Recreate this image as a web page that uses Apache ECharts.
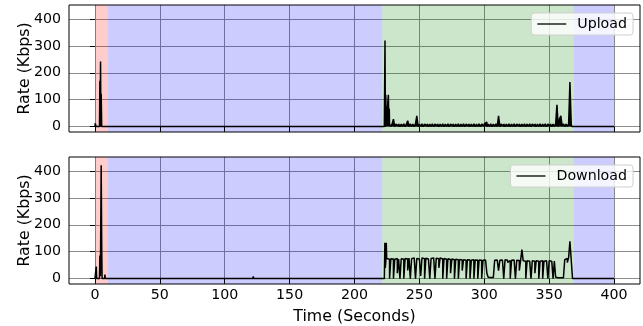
<!DOCTYPE html>
<html><head><meta charset="utf-8">
<script src="https://cdn.jsdelivr.net/npm/echarts@6/dist/echarts.min.js"></script>
<style>html,body{margin:0;padding:0;background:#fff}#c{width:643px;height:326px}</style>
</head><body><div id="c"></div>
<script>
// ---- data ----
const xTicks = [0, 50, 100, 150, 200, 250, 300, 350, 400];
const yTicks = [0, 100, 200, 300, 400];
const regionStart = [0, 10, 221.3, 368.8];
const regionEnd   = [10, 221.3, 368.8, 400];
const regionKind  = ['red', 'blue', 'green', 'blue'];

// Upload: sparse points [time, rate]
const uploadHead = [[0,0],[0.2,12],[0.6,8],[1,0],[3.5,0],[3.8,170],[4.1,0],[4.3,242],[4.6,0],[4.8,122],[5.2,0],[5.6,0],
  [61.2,0],[61.5,4],[61.8,0],[121.7,0],[122,6],[122.3,0],[181.7,0],[182,3],[182.3,0],
  [223,0],[223.5,320],[223.8,0],[224.1,118],[224.4,5],[225.7,5],[226.1,118],[226.5,5],[226.8,66]];
// Upload: one value per second from t=227
const uploadBandStart = 227;
const uploadBand = [
  9,1,10,28,0,9,2,10,0,9,
  1,10,0,9,22,0,10,1,9,0,
  10,40,0,9,1,10,0,9,2,10,
  0,9,1,10,0,9,2,10,0,9,
  1,10,0,9,1,10,0,9,2,10,
  0,9,1,10,0,9,1,10,0,9,
  2,10,0,9,1,10,0,9,1,10,
  0,9,2,10,17,0,9,1,10,0,
  9,1,10,0,40,0,9,2,10,0,
  9,1,10,0,9,1,10,0,9,2,
  10,0,9,1,10,0,9,1,10,0,
  9,2,10,0,9,1,10,0,9,1,
  10,0,9,2,10,0,9,1,10,81,
  0,28,40,2,10,0,9,1,10,166,
  9];
const uploadTail = [[367.5,0],[400,0]];

// Download: sparse points [time, rate]
const downloadHead = [[0,0],[0.7,0],[1,45],[1.3,0],[3.5,0],[3.8,86],[4.2,10],[4.8,421],[5.2,123],[5.5,0],
  [7.4,0],[7.7,15],[8,0],[121.7,0],[122,8],[122.3,0],
  [223,0],[223.4,133],[223.7,40],[224.1,60],[224.5,133],[224.8,75]];
// Download: one value per second from t=225
const downloadBandStart = 225;
const downloadBand = [
  75,72,0,74,73,0,72,75,20,73,
  0,74,72,0,75,73,30,76,0,74,
  77,72,0,75,73,76,10,77,74,0,
  76,73,77,0,75,77,73,0,76,74,
  40,77,73,0,75,72,0,74,71,20,
  73,70,0,72,70,0,71,69,30,70,
  68,0,70,69,0,68,70,0,69,68,
  0,69,68,0,68,69,67,20,5,4,
  5,4,5,68,69,67,30,68,69,68,
  0,70,68,60,67,0,68,69,67,0,
  68,67,30,68,108,66,65,0,66,65,
  65,0,66,65,20,66,65,0,65,66,
  0,65,66,65,0,66,65,60,0,65,
  5,3,4,3,4,3,5,70,75,60,
  78,139,70,0];
const downloadTail = [[369,0],[400,0]];

// ---- build ----
function build(head, start, band, tail) {
  return head.concat(band.map((v, i) => [start + i, v])).concat(tail);
}
const uploadData = build(uploadHead, uploadBandStart, uploadBand, uploadTail);
const downloadData = build(downloadHead, downloadBandStart, downloadBand, downloadTail);

const shade = {red: 'rgba(255,0,0,0.2)', blue: 'rgba(0,0,255,0.2)', green: 'rgba(0,128,0,0.2)'};
const areas = regionStart.map((s, i) => [
  {xAxis: s, itemStyle: {color: shade[regionKind[i]]}},
  {xAxis: regionEnd[i]}
]);

const FONT = 'DejaVu Sans';
const grids = [
  {left: 69, top: 5, width: 571, height: 127},
  {left: 69, top: 157, width: 571, height: 127}
];
function xAxisFor(idx, showLabel) {
  return {
    type: 'value', gridIndex: idx, min: -20, max: 420, splitNumber: 9, z: 1,
    axisLine: {show: false},
    axisTick: {show: true, length: 5, inside: false, customValues: xTicks, lineStyle: {color: '#000', width: 1}},
    axisLabel: {show: showLabel, customValues: xTicks, margin: 4, color: '#000', fontFamily: FONT, fontSize: 14.2},
    splitLine: {show: true, lineStyle: {color: '#8c8c8c', width: 1}},
    name: showLabel ? 'Time (Seconds)' : '', nameLocation: 'middle', nameGap: 25, nameMoveOverlap: false,
    nameTextStyle: {color: '#000', fontFamily: FONT, fontSize: 15.8}
  };
}
function yAxisFor(idx) {
  return {
    type: 'value', gridIndex: idx, min: -20, max: 452, splitNumber: 5, z: 1,
    axisLine: {show: false},
    axisTick: {show: true, length: 5, inside: false, customValues: yTicks, lineStyle: {color: '#000', width: 1}},
    axisLabel: {customValues: yTicks, margin: 8, color: '#000', fontFamily: FONT, fontSize: 14.2},
    splitLine: {show: true, lineStyle: {color: '#8c8c8c', width: 1}},
    name: 'Rate (Kbps)', nameLocation: 'middle', nameGap: 36, nameMoveOverlap: false,
    nameTextStyle: {color: '#000', fontFamily: FONT, fontSize: 15.8}
  };
}
function legendFor(name, top) {
  return {
    data: [name], right: 10, top: top, orient: 'horizontal',
    icon: 'rect', itemWidth: 29, itemHeight: 1.3,
    backgroundColor: 'rgba(255,255,255,0.8)', borderColor: '#d0d0d0', borderWidth: 1, borderRadius: 3,
    padding: [4, 6, 4, 6],
    textStyle: {color: '#000', fontFamily: FONT, fontSize: 14.2, padding: [0, 0, 0, 6]},
    selectedMode: false
  };
}

const chart = echarts.init(document.getElementById('c'), null, {renderer: 'canvas'});
chart.setOption({
  animation: false,
  backgroundColor: '#fff',
  grid: grids.map(g => Object.assign({show: true, borderColor: '#000', borderWidth: 1, backgroundColor: 'transparent', z: 2}, g)),
  xAxis: [xAxisFor(0, false), xAxisFor(1, true)],
  yAxis: [yAxisFor(0), yAxisFor(1)],
  legend: [legendFor('Upload', 13), legendFor('Download', 165)],
  series: [
    {type: 'line', xAxisIndex: 0, yAxisIndex: 0, data: [], z: 0, silent: true,
     markArea: {silent: true, data: areas}},
    {type: 'line', xAxisIndex: 1, yAxisIndex: 1, data: [], z: 0, silent: true,
     markArea: {silent: true, data: areas}},
    {name: 'Upload', type: 'line', step: 'end', xAxisIndex: 0, yAxisIndex: 0, data: uploadData, z: 3,
     symbol: 'none', sampling: 'none', lineStyle: {color: '#000', width: 1.5}, itemStyle: {color: '#000'},
     areaStyle: {color: '#000', opacity: 1, origin: 0}},
    {name: 'Download', type: 'line', step: 'end', xAxisIndex: 1, yAxisIndex: 1, data: downloadData, z: 3,
     symbol: 'none', sampling: 'none', lineStyle: {color: '#000', width: 1.5}, itemStyle: {color: '#000'}}
  ]
});
</script></body></html>
